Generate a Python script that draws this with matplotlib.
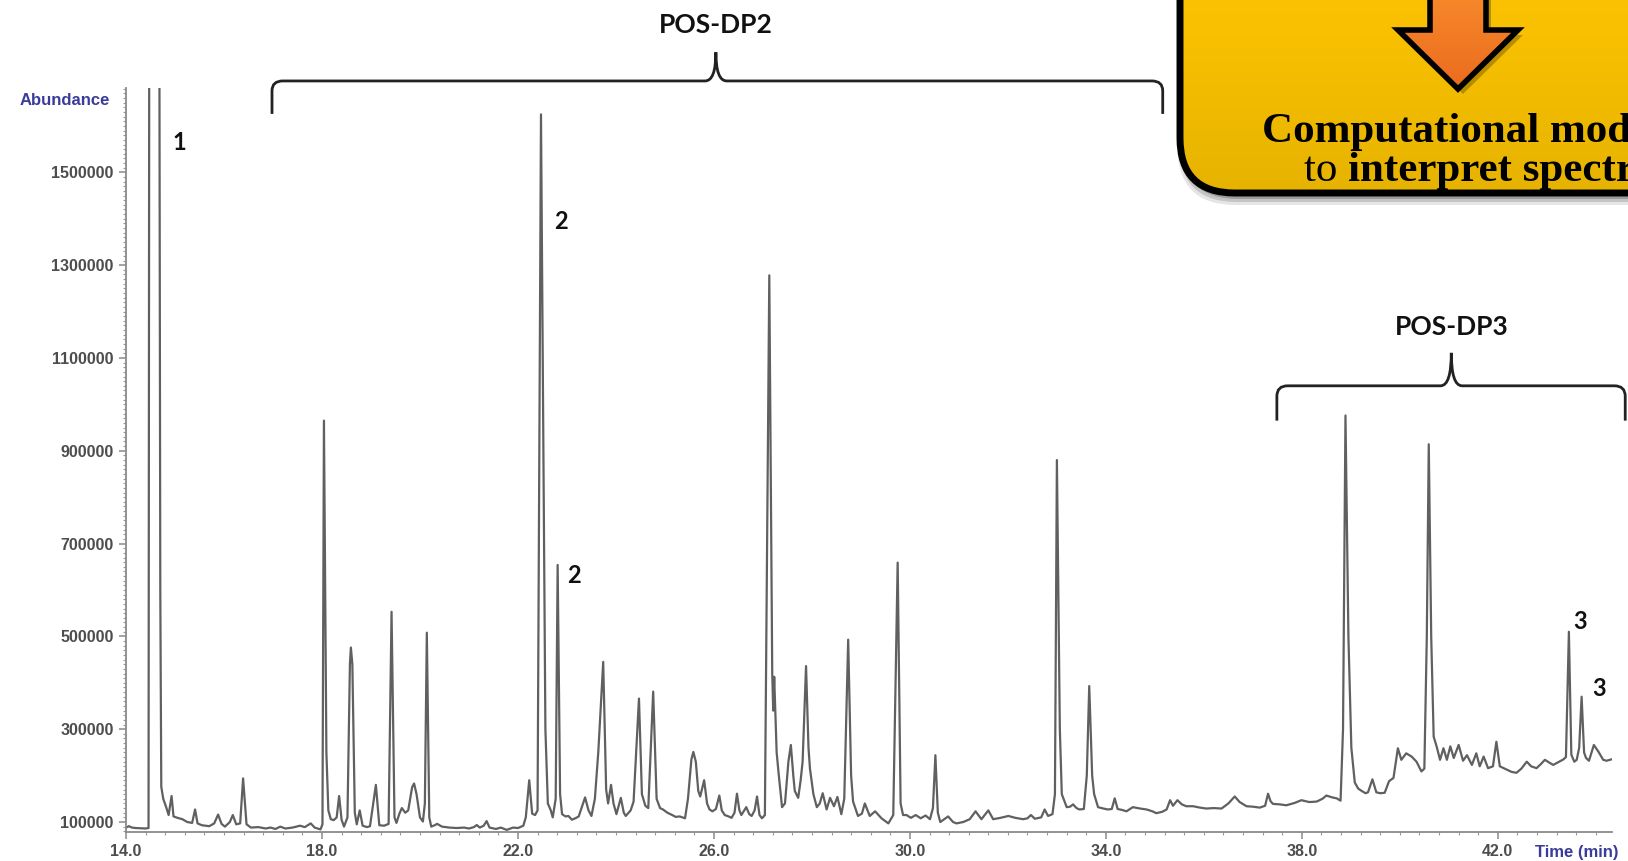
import numpy as np
import matplotlib.pyplot as plt
from matplotlib.patches import FancyBboxPatch, Polygon, PathPatch
from matplotlib.path import Path
from matplotlib.ticker import FixedLocator, MultipleLocator
from matplotlib.colors import LinearSegmentedColormap

# chromatogram trace (time in min, abundance)
time_min = [
    14.00, 14.06, 14.12, 14.20, 14.30, 14.40, 14.46, 14.48, 14.67, 14.70,
    14.72, 14.76, 14.82, 14.87, 14.93, 14.97, 15.05, 15.15, 15.25, 15.35,
    15.41, 15.46, 15.55, 15.70, 15.80, 15.88, 15.95, 16.02, 16.12, 16.18,
    16.25, 16.33, 16.39, 16.46, 16.55, 16.70, 16.85, 16.95, 17.05, 17.15,
    17.25, 17.40, 17.55, 17.65, 17.77, 17.85, 17.97, 18.01, 18.04, 18.09,
    18.13, 18.18, 18.24, 18.30, 18.35, 18.40, 18.45, 18.52, 18.57, 18.59,
    18.62, 18.67, 18.71, 18.77, 18.83, 18.92, 18.98, 19.10, 19.17, 19.27,
    19.36, 19.42, 19.48, 19.52, 19.58, 19.63, 19.70, 19.76, 19.84, 19.88,
    19.93, 20.00, 20.06, 20.10, 20.14, 20.19, 20.23, 20.30, 20.35, 20.45,
    20.60, 20.75, 20.90, 21.00, 21.10, 21.16, 21.22, 21.30, 21.36, 21.42,
    21.55, 21.65, 21.77, 21.90, 22.00, 22.11, 22.16, 22.23, 22.29, 22.35,
    22.40, 22.47, 22.56, 22.61, 22.67, 22.71, 22.77, 22.81, 22.86, 22.90,
    22.97, 23.03, 23.10, 23.17, 23.24, 23.37, 23.44, 23.50, 23.57, 23.64,
    23.74, 23.80, 23.84, 23.90, 23.95, 24.01, 24.10, 24.16, 24.20, 24.30,
    24.36, 24.47, 24.53, 24.60, 24.66, 24.76, 24.83, 24.90, 24.96, 25.05,
    25.13, 25.22, 25.30, 25.41, 25.47, 25.54, 25.58, 25.63, 25.68, 25.72,
    25.80, 25.86, 25.91, 25.97, 26.04, 26.11, 26.16, 26.22, 26.30, 26.36,
    26.42, 26.47, 26.52, 26.56, 26.66, 26.72, 26.77, 26.83, 26.88, 26.93,
    26.98, 27.04, 27.13, 27.19, 27.21, 27.23, 27.28, 27.32, 27.39, 27.45,
    27.52, 27.57, 27.62, 27.65, 27.72, 27.77, 27.81, 27.88, 27.93, 27.96,
    28.03, 28.10, 28.16, 28.22, 28.30, 28.37, 28.45, 28.52, 28.60, 28.66,
    28.74, 28.80, 28.84, 28.94, 29.02, 29.08, 29.18, 29.29, 29.42, 29.56,
    29.66, 29.75, 29.81, 29.86, 29.93, 30.02, 30.12, 30.22, 30.32, 30.41,
    30.47, 30.52, 30.57, 30.62, 30.70, 30.78, 30.88, 30.95, 31.09, 31.22,
    31.34, 31.46, 31.60, 31.70, 31.85, 32.01, 32.15, 32.31, 32.40, 32.47,
    32.55, 32.68, 32.75, 32.82, 32.91, 32.96, 33.00, 33.06, 33.10, 33.20,
    33.27, 33.33, 33.40, 33.46, 33.55, 33.61, 33.66, 33.72, 33.76, 33.84,
    33.95, 34.04, 34.12, 34.18, 34.24, 34.33, 34.42, 34.55, 34.70, 34.83,
    34.95, 35.03, 35.15, 35.24, 35.31, 35.37, 35.46, 35.55, 35.64, 35.78,
    35.92, 36.05, 36.20, 36.36, 36.50, 36.63, 36.73, 36.87, 37.00, 37.14,
    37.25, 37.31, 37.36, 37.41, 37.55, 37.68, 37.85, 37.99, 38.15, 38.30,
    38.42, 38.50, 38.62, 38.71, 38.79, 38.84, 38.89, 38.95, 39.01, 39.08,
    39.15, 39.22, 39.30, 39.35, 39.44, 39.52, 39.60, 39.69, 39.78, 39.87,
    39.96, 40.03, 40.13, 40.24, 40.34, 40.44, 40.50, 40.55, 40.59, 40.64,
    40.69, 40.75, 40.82, 40.89, 40.96, 41.03, 41.10, 41.20, 41.29, 41.37,
    41.47, 41.56, 41.63, 41.71, 41.80, 41.90, 41.97, 42.04, 42.18, 42.28,
    42.38, 42.48, 42.59, 42.68, 42.79, 42.88, 42.96, 43.05, 43.13, 43.25,
    43.34, 43.39, 43.45, 43.50, 43.56, 43.61, 43.66, 43.71, 43.76, 43.80,
    43.86, 43.96, 44.05, 44.15, 44.22, 44.32,
]
abundance = [
    88000, 91000, 88000, 87000, 86500, 86000, 87000, 2500000, 2500000, 600000,
    176000, 150000, 132000, 115000, 156000, 112000, 109000, 106000, 100000, 98000,
    127000, 97000, 93000, 91000, 97000, 116000, 96000, 90000, 100000, 115000,
    95000, 97000, 194000, 95000, 88000, 89000, 86000, 88000, 85000, 90000,
    86000, 88000, 92000, 89000, 97000, 88000, 84000, 95000, 965000, 250000,
    125000, 106000, 104000, 110000, 156000, 105000, 90000, 110000, 440000, 476000,
    440000, 120000, 95000, 125000, 92000, 89000, 91000, 180000, 93000, 92000,
    96000, 553000, 110000, 98000, 118000, 130000, 120000, 125000, 175000, 183000,
    160000, 110000, 101000, 140000, 508000, 110000, 90000, 93000, 96000, 90000,
    88000, 87000, 88000, 86000, 89000, 93500, 88000, 92000, 102000, 88000,
    85000, 88000, 83000, 88000, 87000, 92000, 110000, 190000, 118000, 115000,
    125000, 1625000, 300000, 140000, 125000, 110000, 150000, 654000, 160000, 117000,
    112000, 113000, 105000, 108000, 112000, 153000, 125000, 113000, 150000, 251000,
    445000, 170000, 140000, 180000, 140000, 117000, 152000, 120000, 113000, 125000,
    144000, 366000, 160000, 135000, 130000, 381000, 150000, 130000, 127000, 120000,
    116000, 111000, 112000, 108000, 150000, 235000, 251000, 230000, 167000, 155000,
    190000, 140000, 127000, 123000, 128000, 157000, 125000, 115000, 112000, 109000,
    120000, 161000, 125000, 115000, 132000, 117000, 113000, 125000, 155000, 115000,
    108000, 115000, 1278000, 420000, 340000, 413000, 250000, 205000, 132000, 140000,
    230000, 266000, 200000, 167000, 152000, 190000, 230000, 436000, 260000, 215000,
    160000, 132000, 140000, 162000, 127000, 152000, 134000, 154000, 117000, 150000,
    493000, 200000, 144000, 113000, 118000, 140000, 113000, 123000, 108000, 97000,
    115000, 659000, 140000, 115000, 115000, 109000, 115000, 108000, 114000, 106000,
    130000, 244000, 120000, 100000, 106000, 112000, 100000, 97000, 100000, 106000,
    123000, 106000, 125000, 106000, 109000, 113000, 109000, 106000, 108000, 115000,
    107000, 110000, 127000, 113000, 117000, 160000, 880000, 300000, 160000, 132000,
    133000, 138000, 130000, 127000, 128000, 200000, 393000, 200000, 160000, 132000,
    129000, 127000, 128000, 151000, 128000, 126000, 123000, 132000, 129000, 127000,
    123000, 119000, 122000, 127000, 147000, 135000, 147000, 138000, 134000, 134000,
    131000, 129000, 130000, 129000, 140000, 155000, 143000, 134000, 133000, 131000,
    135000, 161000, 145000, 139000, 138000, 136000, 141000, 147000, 143000, 144000,
    150000, 157000, 153000, 151000, 146000, 300000, 976000, 500000, 260000, 185000,
    172000, 167000, 162000, 164000, 192000, 164000, 162000, 163000, 188000, 195000,
    259000, 234000, 248000, 241000, 230000, 209000, 215000, 500000, 914000, 500000,
    284000, 263000, 234000, 259000, 234000, 263000, 238000, 266000, 232000, 244000,
    223000, 248000, 220000, 241000, 216000, 220000, 273000, 220000, 213000, 208000,
    206000, 215000, 230000, 220000, 216000, 225000, 234000, 228000, 223000, 230000,
    235000, 240000, 510000, 245000, 230000, 234000, 260000, 370000, 250000, 238000,
    232000, 266000, 252000, 234000, 232000, 235000,
]

x_ticks = [14.0, 18.0, 22.0, 26.0, 30.0, 34.0, 38.0, 42.0]
y_ticks = [100000, 300000, 500000, 700000, 900000, 1100000, 1300000, 1500000]

peak_text = ["1", "2", "2", "3", "3"]
peak_t = [15.08, 22.87, 23.14, 43.67, 44.06]
peak_v = [1565000, 1393700, 630600, 531600, 388000]

# brace: label, left, right, centre, line level, end level, tip level, text level
brace_names = ["POS-DP2", "POS-DP3"]
brace_left = [16.98, 37.49]
brace_right = [35.16, 44.60]
brace_mid = [26.04, 41.05]
brace_base = [1697000, 1040000]
brace_end = [1626000, 965000]
brace_tip = [1759000, 1111000]
brace_label = [1817000, 1167000]

blue = '#3B3B9B'
gray = '#4d4d4d'

fig = plt.figure(figsize=(16.28, 8.61), dpi=100)
ax = fig.add_axes([126 / 1628, 1 - 832 / 861, (1612 - 126) / 1628, (832 - 88) / 861])

ax.plot(time_min, abundance, color='#606060', lw=1.6, solid_joinstyle='round')
ax.set_xlim(14.0, 44.33)
ax.set_ylim(78450, 1681800)

for s in ['top', 'right']:
    ax.spines[s].set_visible(False)
for s in ['left', 'bottom']:
    ax.spines[s].set_color('#8a8a8a')
    ax.spines[s].set_linewidth(1.3)

ax.xaxis.set_major_locator(FixedLocator(x_ticks))
ax.xaxis.set_minor_locator(MultipleLocator(0.4))
ax.yaxis.set_major_locator(FixedLocator(y_ticks))
ax.yaxis.set_minor_locator(MultipleLocator(10000))
ax.set_xticklabels(['%.1f' % t for t in x_ticks])
ax.set_yticklabels([str(v) for v in y_ticks])
ax.tick_params(which='major', direction='out', length=5, width=1.1, color='#8a8a8a',
               labelsize=11.5, labelcolor=gray, pad=4)
ax.tick_params(which='minor', direction='out', length=2.5, width=0.8, color='#9a9a9a')
for lab in ax.get_xticklabels() + ax.get_yticklabels():
    lab.set_fontfamily('Liberation Sans')
    lab.set_fontweight('bold')

fig.text(110 / 1628, 1 - 100.5 / 861, 'Abundance', ha='right', va='center',
         fontsize=12, fontweight='bold', color=blue, family='Liberation Sans')
fig.text(1577 / 1628, 1 - 852 / 861, 'Time (min)', ha='center', va='center',
         fontsize=12, fontweight='bold', color=blue, family='Liberation Sans')

for s, t, v in zip(peak_text, peak_t, peak_v):
    ax.text(t, v, s, ha='center', va='center', fontsize=17, fontweight='bold',
            family='Lato', color='#111111')

# curly brackets above the peak groups
rx = 0.22
for i in range(len(brace_names)):
    x0, x1, xc = brace_left[i], brace_right[i], brace_mid[i]
    yb, ye, yt = brace_base[i], brace_end[i], brace_tip[i]
    ry = (yb - ye) * 0.3
    verts = [(x0, ye), (x0, yb - ry), (x0, yb), (x0 + rx, yb), (xc - rx, yb),
             (xc, yb), (xc, yt), (xc, yb), (xc + rx, yb), (x1 - rx, yb),
             (x1, yb), (x1, yb - ry), (x1, ye)]
    codes = [Path.MOVETO, Path.LINETO, Path.CURVE3, Path.CURVE3, Path.LINETO,
             Path.CURVE3, Path.CURVE3, Path.CURVE3, Path.CURVE3, Path.LINETO,
             Path.CURVE3, Path.CURVE3, Path.LINETO]
    ax.add_patch(PathPatch(Path(verts, codes), fill=False, lw=2.0,
                           edgecolor='#222222', clip_on=False))
    ax.text(xc, brace_label[i], brace_names[i], ha='center', va='center',
            fontsize=19, fontweight='bold', family='Lato', color='#111111',
            clip_on=False)

# yellow call-out box cropped at the top right corner
ov = fig.add_axes([0, 0, 1, 1], zorder=5)
ov.set_xlim(0, 1628)
ov.set_ylim(861, 0)
ov.axis('off')
ov.patch.set_alpha(0)

bx, by, bw, bh = 1180, -120, 700, 313
for k, a in enumerate([0.10, 0.14, 0.20]):
    d = 9 - 3 * k
    ov.add_patch(FancyBboxPatch((bx - d / 2 + 2, by), bw + d, bh + d + 3,
                                boxstyle='round,pad=0,rounding_size=58',
                                facecolor='black', edgecolor='none', alpha=a))
box = FancyBboxPatch((bx, by), bw, bh, boxstyle='round,pad=0,rounding_size=55',
                     facecolor='none', edgecolor='none')
ov.add_patch(box)
yel = LinearSegmentedColormap.from_list('yel', ['#FFC907', '#F8C000', '#E6B300'])
grad = np.linspace(0, 1, 256).reshape(-1, 1)
im = ov.imshow(grad, cmap=yel, extent=[bx, bx + bw, by + bh, by], aspect='auto',
               zorder=2)
im.set_clip_path(box)
ov.add_patch(FancyBboxPatch((bx, by), bw, bh, boxstyle='round,pad=0,rounding_size=55',
                            facecolor='none', edgecolor='black', lw=5, zorder=3))

arrow_pts = [(1430, -10), (1486, -10), (1486, 30), (1518, 30), (1458, 89),
             (1398, 30), (1430, 30)]
ov.add_patch(Polygon([(px + 5, py + 5) for px, py in arrow_pts], closed=True,
                     facecolor='black', edgecolor='none', alpha=0.25, zorder=3))
arr = Polygon(arrow_pts, closed=True, facecolor='none', edgecolor='none')
ov.add_patch(arr)
org = LinearSegmentedColormap.from_list('org', ['#F8892C', '#EA6C1E'])
im2 = ov.imshow(grad, cmap=org, extent=[1390, 1530, 89, -10], aspect='auto', zorder=4)
im2.set_clip_path(arr)
ov.add_patch(Polygon(arrow_pts, closed=True, facecolor='none', edgecolor='black',
                     lw=4, joinstyle='miter', zorder=5))
ov.set_xlim(0, 1628)
ov.set_ylim(861, 0)

ov.text(1262, 142, 'Computational modeling', ha='left', va='baseline', fontsize=31,
        fontweight='bold', family='Liberation Serif', color='black', zorder=6)
t1 = ov.text(1304, 181, 'to ', ha='left', va='baseline', fontsize=31,
             family='Liberation Serif', color='black', zorder=6)
fig.canvas.draw()
bb = t1.get_window_extent()
ov.text(1304 + bb.width, 181, 'interpret spectra', ha='left', va='baseline',
        fontsize=31, fontweight='bold', family='Liberation Serif', color='black',
        zorder=6)

fig.savefig('out.png', dpi=100)
